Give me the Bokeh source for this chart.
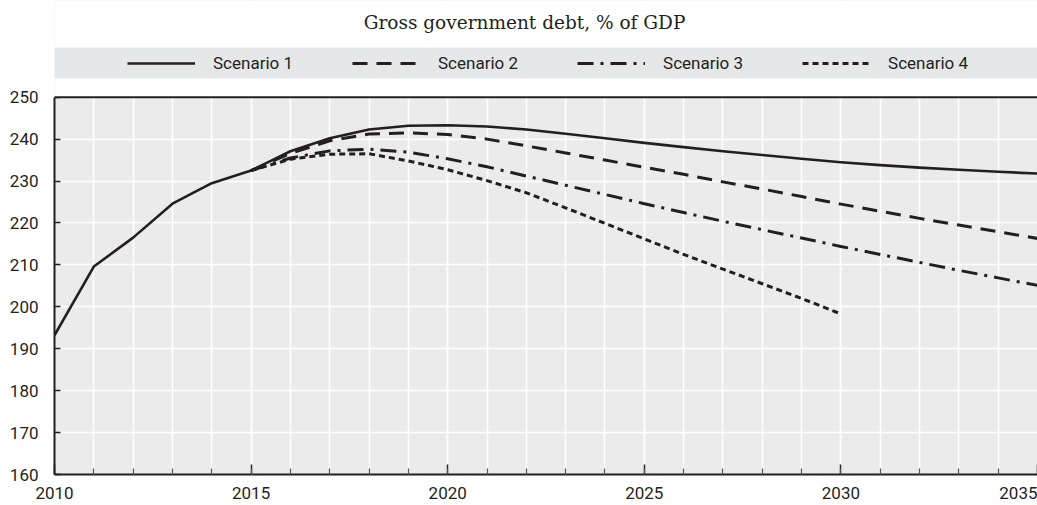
from bokeh.plotting import figure
from bokeh.models import (Range1d, Legend, LegendItem, SingleIntervalTicker,
                          FixedTicker, BoxAnnotation, Label, Span)
from bokeh.embed import file_html
from bokeh.resources import INLINE

# ---- data -------------------------------------------------------------
years_s1 = list(range(2010, 2036))
s1 = [193.2, 209.6, 216.5, 224.6, 229.5, 232.5, 237.1, 240.2, 242.3, 243.2,
      243.3, 243.0, 242.3, 241.3, 240.2, 239.1, 238.1, 237.1, 236.2, 235.3,
      234.5, 233.8, 233.2, 232.7, 232.2, 231.8]

years_s2 = list(range(2015, 2036))
s2 = [232.5, 236.6, 239.6, 241.2, 241.5, 241.1, 240.0, 238.4, 236.7, 235.0,
      233.3, 231.6, 229.8, 228.1, 226.3, 224.5, 222.8, 221.1, 219.5, 217.9,
      216.3]

years_s3 = list(range(2015, 2036))
s3 = [232.5, 235.5, 237.2, 237.6, 236.9, 235.3, 233.4, 231.2, 229.0, 226.8,
      224.6, 222.5, 220.4, 218.4, 216.4, 214.4, 212.5, 210.6, 208.7, 206.9,
      205.1]

years_s4 = list(range(2015, 2031))
s4 = [232.5, 235.2, 236.4, 236.5, 234.8, 232.7, 230.1, 227.2, 223.6, 219.9,
      216.2, 212.5, 209.0, 205.5, 202.0, 198.3]

series_names = ["Scenario 1", "Scenario 2", "Scenario 3", "Scenario 4"]
subtitle = "Gross government debt, % of GDP"
x_tick_interval = 5
y_ticks = list(range(160, 251, 10))
Y_MIN, Y_MAX = 160, 250
X_MIN, X_MAX = 2010, 2035

# ---- layout (pixels) ---------------------------------------------------
W, H = 1037, 505
FRAME_LEFT, FRAME_BOTTOM_PX, AXIS_TOP_PX = 54, 474, 96.7
PX_PER_UNIT = (FRAME_BOTTOM_PX - AXIS_TOP_PX) / (Y_MAX - Y_MIN)
PX_PER_YEAR = (W - FRAME_LEFT) / (X_MAX - X_MIN)


def y_at(px):
    """data y for a pixel row (frame spans the whole top of the canvas)"""
    return Y_MIN + (FRAME_BOTTOM_PX - px) / PX_PER_UNIT


def x_at(px):
    return X_MIN + (px - FRAME_LEFT) / PX_PER_YEAR


INK = "#231f20"
dashes = ["solid", "15 9", "16 7 3 7", "6 4"]
widths = [2.6, 3, 3, 3]
FONT = "Roboto"

p = figure(width=W, height=H,
           x_range=Range1d(X_MIN, X_MAX), y_range=Range1d(Y_MIN, y_at(0)),
           output_backend="svg", toolbar_location=None,
           min_border_left=FRAME_LEFT, min_border_right=0,
           min_border_top=0, min_border_bottom=H - FRAME_BOTTOM_PX,
           background_fill_color="#ebebeb", border_fill_color="white",
           outline_line_color=None)

# axes
xa = p.xaxis[0]
xa.ticker = SingleIntervalTicker(interval=x_tick_interval, num_minor_ticks=5)
xa.major_tick_in = 10
xa.major_tick_out = 0
xa.minor_tick_in = 6
xa.minor_tick_out = 0
xa.axis_line_width = 2
xa.axis_line_color = INK
xa.major_tick_line_color = INK
xa.major_tick_line_width = 1.5
xa.minor_tick_line_color = "#555555"
xa.minor_tick_line_width = 1.2
xa.major_label_standoff = 12
xa.major_label_text_font = FONT
xa.major_label_text_font_size = "17px"
xa.major_label_text_color = INK

ya = p.yaxis[0]
ya.ticker = FixedTicker(ticks=y_ticks)
ya.bounds = (Y_MIN, Y_MAX)
ya.major_tick_in = 6
ya.major_tick_out = 0
ya.minor_tick_in = 0
ya.minor_tick_out = 0
ya.axis_line_width = 2
ya.axis_line_color = INK
ya.major_tick_line_color = INK
ya.major_tick_line_width = 1.5
ya.major_label_standoff = 16
ya.major_label_text_font = FONT
ya.major_label_text_font_size = "17px"
ya.major_label_text_color = INK

# grid
p.xgrid.grid_line_color = "white"
p.xgrid.grid_line_width = 1.5
p.xgrid.minor_grid_line_color = "white"
p.xgrid.minor_grid_line_width = 1.5
p.ygrid.ticker = FixedTicker(ticks=y_ticks)
p.ygrid.grid_line_color = "white"
p.ygrid.grid_line_width = 1.5

# lines
renderers = []
for xs, ys, dash, w in zip([years_s1, years_s2, years_s3, years_s4],
                           [s1, s2, s3, s4], dashes, widths):
    r = p.line(xs, ys, line_color=INK, line_width=w, line_dash=dash,
               line_join="round")
    renderers.append(r)

# white area above the plotting region, top rule, legend band
p.add_layout(BoxAnnotation(bottom=Y_MAX, fill_color="white", fill_alpha=1,
                           line_color=None))
p.add_layout(Span(location=Y_MAX, dimension="width", line_color=INK,
                  line_width=2))
p.add_layout(BoxAnnotation(bottom=y_at(78), top=y_at(47),
                           fill_color="#e6e7e8", fill_alpha=1,
                           line_color=None))

legend = Legend(items=[LegendItem(label=n, renderers=[r])
                       for n, r in zip(series_names, renderers)],
                orientation="horizontal",
                location=(73, FRAME_BOTTOM_PX - 72.5),
                glyph_width=68, glyph_height=20, label_standoff=18,
                spacing=59, padding=0, margin=0,
                background_fill_alpha=0, border_line_color=None,
                label_text_font=FONT, label_text_font_size="17px",
                label_text_color=INK)
p.add_layout(legend)

# subtitle
p.add_layout(Label(x=x_at(524), y=y_at(21.7), text=subtitle,
                   text_align="center", text_baseline="alphabetic",
                   text_font="DejaVu Serif", text_font_size="18.5px",
                   text_color=INK))

open("out.html", "w").write(file_html(p, INLINE))
